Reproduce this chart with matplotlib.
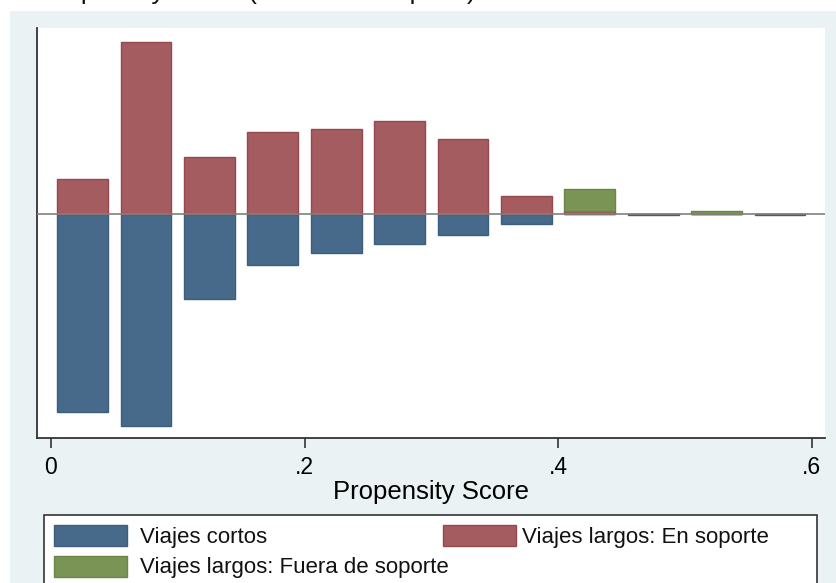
import matplotlib
matplotlib.use("Agg")
import matplotlib.pyplot as plt
from matplotlib.patches import Rectangle
import numpy as np

plt.rcParams['font.family'] = ['Liberation Sans', 'DejaVu Sans']

# Propensity-score bins (centres) and share of each group per bin
bin_centers = [0.025, 0.075, 0.125, 0.175, 0.225, 0.275, 0.325, 0.375, 0.425, 0.475, 0.525, 0.575]
cortos = [0.307, 0.329, 0.132, 0.079, 0.061, 0.047, 0.033, 0.016, 0.0, 0.0016, 0.0, 0.0016]
largos_en = [0.054, 0.266, 0.088, 0.127, 0.132, 0.144, 0.116, 0.027, 0.005, 0.0, 0.0, 0.0]
largos_fuera = [0.0, 0.0, 0.0, 0.0, 0.0, 0.0, 0.0, 0.0, 0.034, 0.0, 0.005, 0.0]

xticks = [0, 0.2, 0.4, 0.6]
xtick_labels = ["0", ".2", ".4", ".6"]

labels = ["Viajes cortos", "Viajes largos: En soporte", "Viajes largos: Fuera de soporte"]
c_blue, c_red, c_green = "#476a8b", "#a55c60", "#7a9456"
e_blue, e_red, e_green = "#3c5d7c", "#93494e", "#6b8549"

W, H = 837, 583
fig = plt.figure(figsize=(W / 100, H / 100), dpi=100, facecolor="white")


def fx(px):
    return px / W


def fy(py):
    return 1 - py / H


# graph region background
fig.patches.append(Rectangle((fx(10), 0), fx(W - 10), fy(11), transform=fig.transFigure,
                             facecolor="#eaf2f3", edgecolor="none", zorder=-5))

# heading above the graph
fig.text(fx(40), 1.0 + 1.5 / H, "Propensity Score (Muestra completa)", fontsize=19,
         va="baseline", ha="left", color="#111111")

ax = fig.add_axes([fx(37), fy(438), fx(825) - fx(37), fy(28) - fy(438)])
ax.set_zorder(1)
ax.set_facecolor("white")

width = 0.04
x = np.array(bin_centers)
ax.bar(x, -np.array(cortos), width=width, color=c_blue, edgecolor=e_blue, linewidth=1.0, zorder=2)
ax.bar(x, largos_en, width=width, color=c_red, edgecolor=e_red, linewidth=1.0, zorder=2)
fuera = np.array(largos_fuera)
mask = fuera > 0
ax.bar(x[mask], fuera[mask], bottom=np.array(largos_en)[mask], width=width,
       color=c_green, edgecolor=e_green, linewidth=1.0, zorder=2)

ax.axhline(0, color="#808080", linewidth=1.2, zorder=3)

ax.set_xlim(-0.011, 0.6105)
ax.set_ylim(-0.3476, 0.288)

ax.set_xticks(xticks)
ax.set_xticklabels(xtick_labels, fontsize=16.5)
ax.set_yticks([])
ax.tick_params(axis="x", direction="out", length=7, width=1.2, color="#333333", pad=6)

for s in ["top", "right"]:
    ax.spines[s].set_visible(False)
for s in ["left", "bottom"]:
    ax.spines[s].set_color("#333333")
    ax.spines[s].set_linewidth(1.3)

ax.set_xlabel("Propensity Score", fontsize=18.5, labelpad=1)

# legend box below the plot
fig.patches.append(Rectangle((fx(44), fy(600)), fx(817) - fx(44), fy(515) - fy(600),
                             transform=fig.transFigure, facecolor="white",
                             edgecolor="#333333", linewidth=1.2, zorder=1))
entries = [
    (54, 525, c_blue, e_blue, 140, labels[0]),
    (443, 525, c_red, e_red, 522, labels[1]),
    (54, 556, c_green, e_green, 140, labels[2]),
]
for sx, sy, fc, ec, tx, txt in entries:
    fig.patches.append(Rectangle((fx(sx), fy(sy + 21)), fx(73), 21 / H, transform=fig.transFigure,
                                 facecolor=fc, edgecolor=ec, linewidth=1.0, zorder=2))
    fig.text(fx(tx), fy(sy + 12), txt, fontsize=16, va="center", ha="left", color="#111111")

fig.savefig("out.png", dpi=100, facecolor="white")
